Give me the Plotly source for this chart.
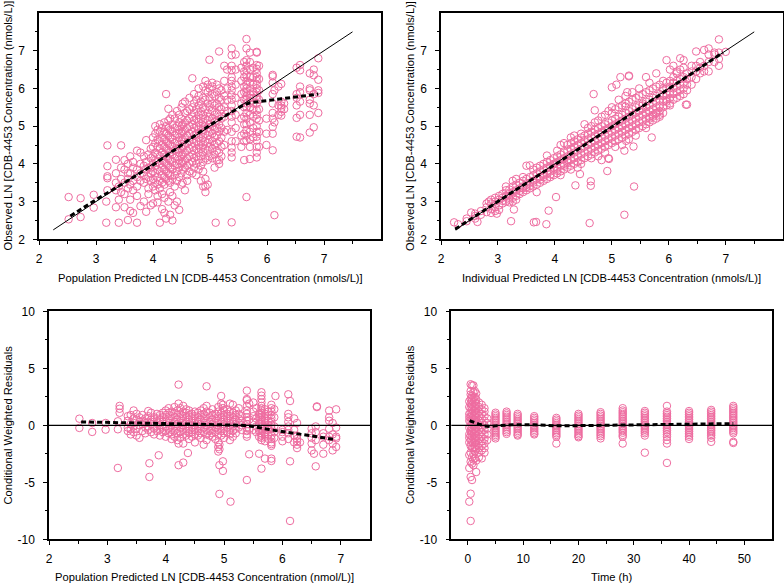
import plotly.graph_objects as go

# ---------------- DATA ----------------
# Panel 1: Population predicted (x) vs observed (y), grouped as (pred, [observed...])
p1_columns = [
    (2.52, [3.12, 2.53]), (2.73, [3.09, 2.59]), (2.96, [3.18, 2.84]),
    (3.18, [2.44, 3.0]), (3.2, [4.49, 3.94, 3.67, 3.62, 3.3]),
    (3.35, [4.11, 3.75, 3.5, 3.3, 2.85]), (3.4, [2.44, 3.4, 3.05]),
    (3.44, [4.49, 3.6, 3.25, 3.9]), (3.5, [3.5, 3.85, 3.2, 2.85, 4.1]),
    (3.56, [2.51, 3.35, 3.6, 4.0, 3.75]), (3.6, [3.45, 3.75, 3.05, 4.2, 2.75]),
    (3.65, [3.55, 3.9, 3.3, 2.7, 4.05]), (3.72, [2.44, 3.65, 3.4, 3.85, 4.35, 3.15]),
    (3.78, [2.88, 3.55, 4.0, 3.75, 4.3]), (3.84, [3.7, 3.95, 3.5, 4.2, 3.0]),
    (3.88, [4.63, 2.73, 3.85, 4.05, 3.6]), (3.92, [3.35, 3.65, 4.25, 3.9, 3.2]),
    (3.96, [3.9, 4.15, 3.55, 3.75, 4.4, 2.9]),
    (4.0, [3.6, 3.8, 4.0, 4.2, 4.45, 4.7, 3.4, 2.95]),
    (4.04, [3.5, 3.75, 3.95, 4.1, 4.3, 4.55, 4.8, 5.0, 3.3]),
    (4.08, [3.45, 3.65, 3.85, 4.05, 4.25, 4.45, 4.65, 4.9, 3.15, 2.98]),
    (4.12, [2.44, 3.55, 3.8, 4.0, 4.2, 4.4, 4.6, 4.85, 5.05, 3.35]),
    (4.16, [3.5, 3.7, 3.9, 4.1, 4.3, 4.5, 4.7, 4.95, 3.2, 2.8]),
    (4.2, [3.45, 3.65, 3.85, 4.05, 4.25, 4.45, 4.65, 4.85, 5.1, 3.1, 2.7]),
    (4.23, [5.85, 3.6, 3.8, 4.0, 4.2, 4.4, 4.6, 4.8, 5.0, 2.55]),
    (4.27, [5.46, 3.55, 3.75, 3.95, 4.15, 4.35, 4.55, 4.75, 4.95, 5.15, 3.0]),
    (4.3, [3.5, 3.7, 3.9, 4.1, 4.3, 4.5, 4.7, 4.9, 5.2, 3.25, 2.65]),
    (4.34, [3.6, 3.85, 4.05, 4.25, 4.45, 4.65, 4.85, 5.05, 5.3, 3.15, 2.5]),
    (4.38, [3.7, 3.95, 4.15, 4.35, 4.55, 4.75, 4.95, 5.2, 3.4, 2.9]),
    (4.42, [3.55, 3.8, 4.0, 4.2, 4.4, 4.6, 4.8, 5.0, 5.4, 3.0]),
    (4.46, [3.65, 3.9, 4.1, 4.3, 4.5, 4.7, 4.9, 5.1, 5.3, 2.78]),
    (4.5, [3.75, 4.0, 4.2, 4.4, 4.6, 4.8, 5.0, 5.2, 5.5, 3.45]),
    (4.52, [5.6, 3.5, 3.85, 4.05, 4.25, 4.45, 4.65, 4.85, 5.05]),
    (4.56, [3.9, 4.1, 4.3, 4.5, 4.7, 4.9, 5.1, 5.35, 5.65, 3.3]),
    (4.6, [3.7, 3.95, 4.15, 4.35, 4.55, 4.75, 4.95, 5.15, 5.4, 3.55]),
    (4.64, [4.0, 4.2, 4.4, 4.6, 4.8, 5.0, 5.2, 5.45, 5.75, 3.8]),
    (4.69, [6.27, 3.75, 4.05, 4.25, 4.45, 4.65, 4.85, 5.05, 5.25, 5.5]),
    (4.72, [3.9, 4.15, 4.35, 4.55, 4.75, 4.95, 5.15, 5.35, 5.6, 5.85]),
    (4.76, [3.7, 4.0, 4.2, 4.4, 4.6, 4.8, 5.0, 5.2, 5.45, 5.7]),
    (4.8, [3.85, 4.1, 4.3, 4.5, 4.7, 4.9, 5.1, 5.3, 5.55, 5.8, 6.0]),
    (4.84, [3.95, 4.2, 4.4, 4.6, 4.8, 5.0, 5.2, 5.4, 5.65, 3.55]),
    (4.88, [3.8, 4.05, 4.3, 4.5, 4.7, 4.9, 5.1, 5.3, 5.5, 5.75, 6.05, 3.4]),
    (4.92, [3.25, 3.4, 3.6, 4.15, 4.4, 4.6, 4.8, 5.0, 5.2, 5.45, 5.7, 5.95, 6.2]),
    (4.96, [3.45, 4.1, 4.35, 4.55, 4.75, 4.95, 5.15, 5.35, 5.6, 5.9, 6.1]),
    (4.99, [6.76, 4.2, 4.45, 4.65, 4.85, 5.05, 5.25, 5.5, 5.75, 6.0]),
    (5.04, [4.15, 4.4, 4.6, 4.8, 5.0, 5.2, 5.4, 5.6, 5.85, 6.15, 6.05]),
    (5.08, [4.25, 4.5, 4.7, 4.9, 5.1, 5.3, 5.55, 5.8, 3.9]),
    (5.1, [2.44]),
    (5.12, [4.1, 4.35, 4.55, 4.75, 4.95, 5.15, 5.35, 5.6, 5.9, 6.1]),
    (5.16, [6.98, 4.1, 4.3, 4.6, 4.85, 5.05, 5.25, 5.5, 5.75, 6.0, 4.0]),
    (5.2, [4.45, 4.7, 4.95, 5.2, 5.45, 5.7, 5.95, 4.2]),
    (5.25, [6.6, 4.5, 4.85, 5.25, 5.5, 5.8, 6.2]),
    (5.3, [6.5, 4.9, 5.4, 5.7, 6.0]),
    (5.38, [7.06, 6.88, 6.6, 6.48, 6.3, 6.05, 5.82, 5.7, 5.4, 5.1, 4.85, 4.6, 4.43,
            4.3, 4.17, 2.45, 6.2, 5.95, 5.55, 5.25]),
    (5.45, [6.9, 6.5, 6.1, 5.75, 5.3, 4.95, 4.6]),
    (5.55, [6.55, 6.2, 5.85, 5.6, 5.2, 4.75, 4.45]),
    (5.6, [6.7, 6.45, 6.3, 6.05, 5.9, 5.7, 5.5, 5.25, 5.05, 4.8, 4.6, 4.1]),
    (5.64, [7.31, 7.06, 6.75, 6.6, 6.48, 6.35, 6.2, 6.1, 6.0, 5.9, 5.8, 5.7, 5.6, 5.5,
            5.35, 5.2, 5.05, 4.9, 4.75, 4.62, 3.12]),
    (5.7, [6.95, 6.7, 6.5, 6.3, 6.15, 6.0, 5.85, 5.75, 5.65, 5.5, 5.3, 5.1, 4.85, 4.65,
           4.45, 4.13]),
    (5.76, [6.55, 6.3, 6.1, 5.9, 5.75, 5.6, 5.45, 5.25, 4.95, 4.7]),
    (5.82, [6.97, 6.95, 6.62, 6.52, 6.4, 6.3, 6.2, 6.1, 6.0, 5.9, 5.8, 5.72, 5.6, 5.42,
            5.3, 5.2, 5.0, 4.85, 4.72, 4.62, 4.45, 4.3, 4.17]),
    (5.86, [6.6, 6.25, 5.95, 5.7, 5.45, 5.15, 4.85, 4.45]),
    (5.99, [5.2, 4.5, 4.8]),
    (6.1, [6.36, 6.32, 6.15, 5.85, 5.6, 5.35, 5.2, 4.98, 4.8, 4.36]),
    (6.13, [2.64, 5.95, 5.1]), (6.2, [5.3, 5.55, 6.05]),
    (6.25, [6.12, 5.55, 5.48, 5.38, 5.28, 5.65]), (6.3, [5.45, 5.6]),
    (6.52, [6.55, 5.85, 5.75, 5.55, 5.22, 4.72]),
    (6.58, [6.62, 6.48, 6.05, 5.9, 5.65, 4.7, 5.3]),
    (6.75, [6.4, 6.0, 5.95, 5.6, 5.3, 4.83, 5.7]),
    (6.82, [6.5, 6.35, 5.85, 5.55, 4.97]),
    (6.9, [6.8, 6.23, 5.95, 5.88, 5.35]),
]
p1_loess_x = [2.55, 3.0, 3.5, 4.0, 4.5, 5.0, 5.3, 5.55, 5.7, 6.0, 6.3, 6.6, 6.9]
p1_loess_y = [2.62, 3.05, 3.5, 3.97, 4.5, 5.03, 5.3, 5.53, 5.62, 5.68, 5.74, 5.79, 5.85]

# Panel 2: Individual predicted (x) vs observed (y)
p2_columns = [
    (2.3, [2.4]), (2.45, [2.48, 2.55]), (2.6, [2.55, 2.68, 2.62]), (2.7, [2.65, 2.75]),
    (2.8, [2.72, 2.85, 2.95]), (2.88, [2.8, 2.95, 3.05, 2.7]),
    (2.95, [2.85, 3.0, 3.1, 2.75]), (3.02, [2.9, 3.05, 3.15, 2.78]),
    (3.08, [2.95, 3.1, 3.2, 3.02]), (3.14, [3.0, 3.15, 3.3, 3.4]),
    (3.2, [3.05, 3.2, 3.32, 2.98, 3.1]), (3.26, [3.1, 3.25, 3.4, 3.55, 3.0]),
    (3.32, [3.15, 3.3, 3.45, 3.6, 3.05]), (3.38, [3.2, 3.35, 3.5, 3.28]),
    (3.44, [3.25, 3.4, 3.55, 3.65, 3.35]), (3.5, [3.3, 3.45, 3.6, 3.95, 3.38]),
    (3.56, [3.35, 3.5, 3.65, 3.96, 3.42]), (3.62, [3.4, 3.55, 3.7, 3.85, 3.5]),
    (3.68, [3.25, 3.45, 3.6, 3.75, 3.9]), (3.74, [3.5, 3.65, 3.8, 3.95, 3.58]),
    (3.8, [3.55, 3.7, 3.85, 4.0, 3.65]), (3.86, [3.6, 3.75, 3.9, 4.05, 4.22]),
    (3.92, [3.65, 3.8, 3.95, 4.1, 3.72]), (3.98, [3.7, 3.85, 4.0, 4.15, 3.9]),
    (4.04, [3.75, 3.9, 4.05, 4.2, 4.35, 3.82]), (4.1, [3.8, 3.95, 4.1, 4.25, 4.5, 3.7]),
    (4.16, [3.85, 4.0, 4.15, 4.3, 4.55, 3.95]), (4.22, [3.9, 4.05, 4.2, 4.35, 4.5, 4.1]),
    (4.28, [3.95, 4.1, 4.25, 4.4, 4.55, 4.7, 3.85]),
    (4.34, [4.0, 4.15, 4.3, 4.45, 4.6, 4.75]), (4.4, [4.05, 4.2, 4.35, 4.5, 4.65, 3.9]),
    (4.46, [4.1, 4.25, 4.4, 4.55, 4.7, 4.8, 4.0]),
    (4.52, [4.15, 4.3, 4.45, 4.6, 4.75, 5.05]), (4.58, [4.2, 4.35, 4.5, 4.65, 4.8, 4.95]),
    (4.64, [4.25, 4.4, 4.55, 4.7, 4.85, 5.0, 4.15]),
    (4.7, [4.3, 4.45, 4.6, 4.75, 4.9, 5.1, 5.42]),
    (4.76, [4.35, 4.5, 4.65, 4.8, 4.95, 5.15, 4.2]),
    (4.82, [4.4, 4.55, 4.7, 4.85, 5.0, 5.25, 4.1]),
    (4.88, [4.45, 4.6, 4.75, 4.9, 5.05, 5.3, 4.3]),
    (4.94, [4.5, 4.65, 4.8, 4.95, 5.1, 5.4, 4.15]),
    (5.0, [4.55, 4.7, 4.85, 5.0, 5.15, 5.35, 5.5]),
    (5.06, [4.6, 4.75, 4.9, 5.05, 5.2, 5.45, 4.45]),
    (5.12, [4.65, 4.8, 4.95, 5.1, 5.25, 5.5, 5.7]),
    (5.18, [4.7, 4.85, 5.0, 5.15, 5.3, 5.55, 4.5]),
    (5.24, [4.75, 4.9, 5.05, 5.2, 5.35, 5.6, 5.8]),
    (5.3, [4.8, 4.95, 5.1, 5.25, 5.4, 5.65, 4.65, 6.32]),
    (5.36, [4.85, 5.0, 5.15, 5.3, 5.45, 5.7, 5.9]),
    (5.42, [4.9, 5.05, 5.2, 5.35, 5.5, 5.75, 4.75]),
    (5.48, [4.95, 5.1, 5.25, 5.4, 5.55, 5.8, 6.0]),
    (5.54, [5.0, 5.15, 5.3, 5.45, 5.6, 5.85, 5.55]),
    (5.6, [5.05, 5.2, 5.35, 5.5, 5.65, 5.9, 6.3, 4.95]),
    (5.66, [5.1, 5.25, 5.4, 5.55, 5.7, 5.95, 6.15, 5.2]),
    (5.72, [5.15, 5.3, 5.45, 5.6, 5.75, 6.0, 5.25]),
    (5.78, [5.2, 5.35, 5.5, 5.65, 5.8, 6.05, 6.4, 5.35]),
    (5.84, [5.25, 5.4, 5.55, 5.7, 5.85, 6.1, 5.3]),
    (5.9, [5.35, 5.5, 5.65, 5.8, 5.95, 6.2, 6.0]),
    (5.96, [5.55, 5.7, 5.85, 6.0, 6.15, 6.75, 5.65]),
    (6.02, [5.6, 5.75, 5.9, 6.05, 6.2, 6.5, 5.55]),
    (6.08, [5.7, 5.85, 6.0, 6.15, 6.3, 6.6]), (6.14, [5.75, 5.9, 6.05, 6.2, 6.4, 6.45]),
    (6.2, [5.8, 5.95, 6.1, 6.25, 6.5, 6.8]), (6.26, [5.85, 6.0, 6.15, 6.3, 6.55, 6.75]),
    (6.32, [5.95, 6.1, 6.25, 6.4, 5.57]), (6.4, [6.1, 6.3, 6.45, 6.6]),
    (6.48, [6.25, 6.45, 6.6, 6.98]), (6.55, [6.4, 6.55, 6.7]), (6.62, [6.45, 6.6, 7.02]),
    (6.7, [6.45, 6.7, 6.9, 7.06]), (6.8, [6.7, 6.9, 6.95]),
    (6.88, [6.6, 6.78, 6.95, 7.3]), (7.0, [6.97]),
]
p2_out_ipred = [2.23, 2.53, 2.64, 2.84, 2.98, 3.23, 3.28, 3.63, 3.67, 3.85, 3.89, 4.02,
                4.36, 4.44, 4.63, 4.63, 4.61, 4.92, 4.95, 5.22, 5.39, 5.38, 5.22, 5.25,
                5.7, 4.68, 5.0, 5.08, 5.15, 5.3, 5.24, 5.27, 6.3]
p2_out_dv = [2.45, 2.71, 2.46, 3.0, 2.68, 2.48, 2.79, 2.45, 2.46, 2.4, 2.76, 3.12,
             3.43, 3.73, 3.54, 3.42, 2.43, 3.81, 4.13, 2.65, 3.4, 4.46, 4.35, 4.61,
             4.7, 5.85, 6.03, 6.1, 6.3, 6.34, 5.52, 5.9, 5.57]
p2_loess_x = [2.25, 3.0, 4.0, 5.0, 6.0, 6.95]
p2_loess_y = [2.27, 3.0, 3.98, 4.98, 5.98, 6.95]

identity_range = [2.25, 7.5]

# Panel 3: Population predicted (x) vs CWRES (y)
p3_columns = [
    (2.52, [0.58, -0.23]), (2.74, [0.2, -0.58]), (2.97, [0.2, -0.38]),
    (3.18, [-3.74, 0.35, -0.35]), (3.21, [1.7, 1.1, 1.45]),
    (3.35, [0.4, -0.2, 0.8, -0.5]), (3.4, [0.9, 0.1, -0.35, -0.8]),
    (3.45, [1.3, 0.6, 0.2, -0.1, -0.6]), (3.5, [0.5, -0.3, 1.0, -0.9]),
    (3.55, [0.0, -1.1, 0.7, 0.3]), (3.6, [0.4, -0.5, 0.9, 0.1]),
    (3.65, [-0.2, 0.6, -0.7, 0.2]), (3.7, [1.25, 0.3, -0.4, 0.8, -0.1]),
    (3.72, [-3.33, -4.53]), (3.75, [0.5, -0.6, 0.1, 1.1]), (3.8, [0.3, -0.3, 0.7, -0.8]),
    (3.85, [0.6, -0.1, 0.2, -0.5, 1.0]), (3.88, [-2.63]),
    (3.9, [0.9, 0.0, -0.4, 0.45, -0.9]), (3.95, [0.3, -0.2, 0.7, 1.1, -0.6]),
    (4.0, [-0.1, 0.4, 0.9, -0.5, -1.0, 1.3]), (4.05, [0.2, 0.6, -0.3, -0.7, 1.1, 1.5]),
    (4.1, [0.0, 0.4, 0.8, -0.4, -0.8, -1.2, 1.2]),
    (4.15, [0.3, 0.7, -0.1, -0.5, -1.0, 1.1, 1.6]),
    (4.2, [0.1, 0.5, 0.9, -0.3, -0.7, -1.3, 1.3]), (4.22, [3.57, -3.5, 1.9, -1.6]),
    (4.25, [0.2, 0.6, 1.0, -0.2, -0.6, -1.1, 1.5]),
    (4.3, [0.0, 0.4, 0.8, -0.4, -0.8, 1.2, -3.27, -1.6, 1.7]),
    (4.35, [0.3, 0.7, -0.1, -0.5, -0.9, 1.1, 1.4]), (4.38, [-2.43]),
    (4.4, [0.1, 0.5, 0.9, -0.3, -0.7, -1.2, 1.3]),
    (4.45, [0.2, 0.6, -0.2, -0.6, -1.0, 1.0]),
    (4.5, [0.0, 0.4, 0.8, -0.4, -0.8, 1.2, -1.5]),
    (4.55, [0.3, 0.7, -0.1, -0.5, -0.9, 1.1]),
    (4.6, [0.1, 0.5, 0.9, -0.3, -0.7, -1.1, 1.3]),
    (4.65, [0.2, 0.6, -0.2, -0.6, 1.0, -1.7, 1.5]),
    (4.7, [3.42, 0.0, 0.4, 0.8, -0.4, -0.8, 1.7, 1.2, -1.3]),
    (4.75, [0.3, 0.7, -0.1, -0.5, -0.9, 1.1]),
    (4.8, [0.1, 0.5, 0.9, -0.3, -0.7, -1.0, 1.4]),
    (4.85, [0.2, 0.6, -0.2, -0.6, 1.0, -1.2]),
    (4.9, [0.0, 0.4, 0.8, -0.4, -0.8, 1.2, 1.6, -1.5, -1.9, -2.3]),
    (4.92, [-6.02, -3.5, -1.7, -2.1]),
    (4.95, [2.57, 0.3, 0.7, -0.1, -0.5, -0.9, 1.1, 1.9]),
    (4.98, [-4.0, -3.16, 1.8, 1.5]),
    (5.0, [0.1, 0.5, 0.9, -0.3, -0.7, -1.1, 1.3]),
    (5.05, [0.2, 0.6, -0.2, -0.6, 1.0, 1.4]),
    (5.1, [0.0, 0.4, 0.8, -0.4, -0.8, 1.2, 1.9, -1.3]), (5.11, [-6.7]),
    (5.15, [0.3, 0.7, -0.1, -0.5, 1.1, 1.8, -1.0]),
    (5.2, [0.1, 0.5, 0.9, -0.3, -0.7, 1.3]), (5.25, [0.2, 0.6, -0.2, 1.0, 1.5]),
    (5.3, [0.0, 0.4, -0.4, 0.8]),
    (5.39, [3.04, -4.8, 2.3, 2.2, 1.7, 1.3, 1.0, 0.7, 0.4, 0.1, -0.2, -0.5, -0.8, -1.0]),
    (5.43, [-2.54, 1.9, 0.5, -0.3]), (5.5, [2.0, 1.2, 0.3, -0.4, 0.8]),
    (5.55, [1.5, 0.6, -0.1, -0.6]), (5.6, [-2.49, 1.0, 0.2, -0.5, -1.0, 0.7]),
    (5.64, [-3.8, 2.9, 2.6, 2.3, 2.0, 1.7, 1.5, 1.3, 1.1, 0.9, 0.7, 0.5, 0.3, 0.1, -0.1,
            -0.3, -0.5, -0.7, -0.9, -1.1, -1.3]),
    (5.7, [-2.92, 1.4, 1.0, 0.6, 0.2, -0.2, -0.6, -1.0, -1.4, 0.4, -0.8]),
    (5.76, [1.2, 0.8, 0.4, 0.0, -0.4, -0.8, -1.2, -0.2]),
    (5.81, [-2.92, -3.13, 1.8, 1.5, 1.2, 0.9, 0.6, 0.3, 0.0, -0.3, -0.6, -0.9, -1.2,
            -1.5, -1.8, -1.65]),
    (5.86, [1.4, 0.7, -0.1, -0.6, -1.1]), (5.88, [2.57]),
    (6.0, [-0.6, -1.0, -1.4, -0.4]),
    (6.1, [2.72, 1.0, 0.7, 0.3, -0.1, -0.4, -0.7, -1.2]),
    (6.13, [-8.39, -3.16, 2.13]), (6.2, [0.6, -0.4, -0.9, -1.5]),
    (6.25, [-0.9, -1.2, -1.4, -1.7, -2.0, 0.2]), (6.3, [-1.5]),
    (6.5, [-0.3, -0.7, -1.1, -1.6, -2.2]), (6.54, [-2.49]),
    (6.57, [-3.6, -0.1, -0.6, -1.3]), (6.59, [1.66, 1.6]),
    (6.7, [-2.49, -1.0, -0.7, -1.7]), (6.8, [1.29, 0.7, 0.4, -0.3, -1.0, -1.3]),
    (6.86, [-2.2, -1.6, 0.2, -0.8]), (6.92, [1.4, -0.2, -1.0, -1.15, -1.9]),
]
p3_loess_x = [2.55, 3.0, 3.5, 4.0, 4.5, 5.0, 5.3, 5.5, 5.8, 6.2, 6.5, 6.9]
p3_loess_y = [0.3, 0.27, 0.22, 0.15, 0.1, 0.05, 0.0, -0.1, -0.4, -0.7, -0.95, -1.25]

# Panel 4: Time (x) vs CWRES (y)
p4_columns = [
    (0.25, [-6.7, -2.6, -3.74, -1.5, -0.8, -0.2, 0.4, 1.0, 1.6, 2.1, 0.7, -1.1]),
    (0.5, [3.6, -8.39, -6.0, -4.53, -3.2, -2.4, -1.8, -1.3, -0.9, -0.5, -0.1, 0.3, 0.7,
           1.1, 1.5, 1.9, 2.3, 2.7, 3.0]),
    (0.75, [-4.8, -3.36, -2.8, -2.0, -1.5, -1.0, -0.6, -0.2, 0.2, 0.6, 1.0, 1.4, 1.8,
            2.2, 2.6, 3.5]),
    (1.0, [3.5, 2.9, 2.4, 2.0, 1.6, 1.2, 0.8, 0.4, 0.0, -0.4, -0.8, -1.2, -1.6, -2.0,
           -2.5, -3.0, -3.5]),
    (1.25, [3.0, 2.5, 2.1, 1.7, 1.3, 0.9, 0.5, 0.1, -0.3, -0.7, -1.1, -1.5, -1.9, -2.3,
            -2.9]),
    (1.5, [2.8, 2.3, 1.9, 1.5, 1.1, 0.7, 0.3, -0.1, -0.5, -0.9, -1.3, -1.7, -2.1, -4.1,
           -3.1]),
    (2.0, [2.0, 1.6, 1.2, 0.8, 0.4, 0.0, -0.4, -0.8, -1.2, -1.6, -2.0, -2.4, -2.8]),
    (2.5, [1.8, 1.4, 1.0, 0.6, 0.2, -0.2, -0.6, -1.0, -1.4, -1.8, -2.2, -2.9]),
    (3.0, [1.5, 1.2, 0.8, 0.4, 0.0, -0.4, -0.8, -1.2, -1.6, -2.0, -2.4]),
    (3.5, [0.6, 0.2, -0.3, -0.8, -1.3]),
    (5.0, [1.1, 0.95, 0.8, 0.65, 0.5, 0.35, 0.2, 0.05, -0.1, -0.25, -0.4, -0.55, -0.7,
           -0.85, -1.0, -1.15]),
    (7.0, [1.2, 1.05, 0.9, 0.75, 0.6, 0.45, 0.3, 0.15, 0.0, -0.15, -0.3, -0.45, -0.6,
           -0.75]),
    (9.0, [1.0, 0.85, 0.7, 0.55, 0.4, 0.25, 0.1, -0.05, -0.2, -0.35, -0.5, -0.65, -0.8,
           -0.9]),
    (12.0, [0.8, 0.65, 0.5, 0.35, 0.2, 0.05, -0.1, -0.25, -0.4, -0.55, -0.7, -0.8]),
    (16.0, [0.65, 0.5, 0.35, 0.2, 0.05, -0.1, -0.25, -0.4, -0.55, -0.7, -0.85, -1.0,
            -1.6]),
    (20.0, [1.0, 0.85, 0.7, 0.55, 0.4, 0.25, 0.1, -0.05, -0.2, -0.35, -0.5, -0.65, -0.8,
            -0.95, -1.05]),
    (24.0, [1.15, 1.0, 0.85, 0.7, 0.55, 0.4, 0.25, 0.1, -0.05, -0.2, -0.35, -0.5, -0.65,
            -0.8, -0.95, -1.15]),
    (28.0, [1.5, 1.3, 1.15, 1.0, 0.85, 0.7, 0.55, 0.4, 0.25, 0.1, -0.05, -0.2, -0.35,
            -0.5, -0.65, -0.85, -1.0, -1.6]),
    (32.0, [1.25, 1.1, 0.95, 0.8, 0.65, 0.5, 0.35, 0.2, 0.05, -0.1, -0.25, -0.4, -0.55,
            -0.7, -0.9, -2.4]),
    (36.0, [1.7, 1.2, 1.05, 0.9, 0.75, 0.6, 0.45, 0.3, 0.15, 0.0, -0.15, -0.3, -0.45,
            -0.6, -0.8, -1.0, -1.3, -1.6, -3.3]),
    (40.0, [1.25, 1.1, 0.95, 0.8, 0.65, 0.5, 0.35, 0.2, 0.05, -0.1, -0.25, -0.4, -0.55,
            -0.7, -0.85, -1.0, -1.2]),
    (44.0, [1.35, 1.2, 1.05, 0.9, 0.75, 0.6, 0.45, 0.3, 0.15, 0.0, -0.15, -0.3, -0.45,
            -0.6, -0.75, -0.9, -1.1, -1.45]),
    (48.0, [1.7, 1.55, 1.4, 1.25, 1.1, 0.95, 0.8, 0.65, 0.5, 0.35, 0.2, 0.05, -0.1,
            -0.25, -0.4, -0.55, -0.7, -1.45, -1.55]),
]
p4_loess_x = [0.3, 1.0, 2.0, 3.0, 4.0, 5.0, 8.0, 12.0, 16.0, 20.0, 25.0, 30.0, 35.0,
              40.0, 44.0, 48.0]
p4_loess_y = [0.4, 0.25, 0.1, -0.05, -0.1, -0.05, 0.05, 0.05, -0.05, -0.03, 0.0, 0.05,
              0.08, 0.1, 0.12, 0.15]

# ---------------- FIGURE ----------------
W, H = 784, 584
PINK = "rgb(238,108,160)"
FONT = "Liberation Sans, Arial, Helvetica, sans-serif"


def expand(cols):
    xs, ys = [], []
    for x, vals in cols:
        xs += [x] * len(vals)
        ys += list(vals)
    return xs, ys


def fx(px):
    return px / W


def fy(py):
    return 1 - py / H


fig = go.Figure()

marker = dict(symbol="circle-open", size=7.5, color=PINK, line=dict(width=1, color=PINK))
loess_line = dict(color="black", width=3, dash="5px,3px")


def add_scatter(xs, ys, ax):
    fig.add_trace(go.Scatter(x=xs, y=ys, mode="markers", marker=marker,
                             xaxis="x" + ax, yaxis="y" + ax, showlegend=False,
                             hoverinfo="skip"))


def add_line(xs, ys, ax, line):
    fig.add_trace(go.Scatter(x=xs, y=ys, mode="lines", line=line,
                             xaxis="x" + ax, yaxis="y" + ax, showlegend=False,
                             hoverinfo="skip"))


x1, y1 = expand(p1_columns)
add_scatter(x1, y1, "")
add_line(identity_range, identity_range, "", dict(color="black", width=1))
add_line(p1_loess_x, p1_loess_y, "", loess_line)

x2, y2 = expand(p2_columns)
add_scatter(x2 + p2_out_ipred, y2 + p2_out_dv, "2")
add_line(identity_range, identity_range, "2", dict(color="black", width=1))
add_line(p2_loess_x, p2_loess_y, "2", loess_line)

x3, y3 = expand(p3_columns)
add_scatter(x3, y3, "3")
add_line(p3_loess_x, p3_loess_y, "3", loess_line)

x4, y4 = expand(p4_columns)
add_scatter(x4, y4, "4")
add_line(p4_loess_x, p4_loess_y, "4", loess_line)


def axis(domain, rng, tickvals, minorvals, anchor, standoff):
    return dict(domain=domain, range=rng, anchor=anchor, tickmode="array",
                tickvals=tickvals, ticktext=[str(v) for v in tickvals],
                ticks="outside", ticklen=4, tickwidth=1, tickcolor="black",
                ticklabelstandoff=standoff,
                showline=True, linecolor="black", linewidth=1.5, mirror=True,
                showgrid=False, zeroline=False, automargin=False,
                tickfont=dict(family=FONT, size=12, color="black"),
                minor=dict(tickmode="array", tickvals=minorvals, ticks="outside",
                           ticklen=2.5, tickwidth=1, tickcolor="black", showgrid=False))


half_2_8 = [2.5, 3.5, 4.5, 5.5, 6.5, 7.5]
ints_2_7 = [2, 3, 4, 5, 6, 7]
cw_ticks = [-10, -5, 0, 5, 10]
cw_minor = [-7.5, -2.5, 2.5, 7.5]

top_dom = [fy(239.3), fy(13)]
bot_dom = [fy(539.3), fy(311.3)]
XS, YS = 4, 6

fig.update_layout(
    template="none",
    width=W, height=H, margin=dict(l=0, r=0, t=0, b=0, pad=0, autoexpand=False),
    paper_bgcolor="white", plot_bgcolor="white",
    font=dict(family=FONT, size=12, color="black"),
    xaxis=axis([fx(39), fx(381)], [2, 8], ints_2_7, half_2_8, "y", XS),
    yaxis=axis(top_dom, [2, 8], ints_2_7, half_2_8, "x", YS),
    xaxis2=axis([fx(441), fx(782.7)], [2, 8], ints_2_7, half_2_8, "y2", XS),
    yaxis2=axis(top_dom, [2, 8], ints_2_7, half_2_8, "x2", YS),
    xaxis3=axis([fx(49), fx(370)], [2, 7.5], ints_2_7, [2.5, 3.5, 4.5, 5.5, 6.5],
                "y3", XS),
    yaxis3=axis(bot_dom, [-10, 10], cw_ticks, cw_minor, "x3", YS),
    xaxis4=axis([fx(451.3), fx(772)], [-3, 55], [0, 10, 20, 30, 40, 50],
                [5, 15, 25, 35, 45], "y4", XS),
    yaxis4=axis(bot_dom, [-10, 10], cw_ticks, cw_minor, "x4", YS),
)

# zero reference lines for residual panels
for ax in ["3", "4"]:
    fig.add_shape(type="line", xref=f"x{ax} domain", yref=f"y{ax}",
                  x0=0, x1=1, y0=0, y1=0, line=dict(color="black", width=1.2))

titles = [
    ("Population Predicted LN [CDB-4453 Concentration (nmols/L)]", 211, 278, 0),
    ("Observed LN [CDB-4453 Concentration (nmols/L)]", 7.5, 126, -90),
    ("Individual Predicted LN [CDB-4453 Concentration (nmols/L)]", 611, 278, 0),
    ("Observed LN [CDB-4453 Concentration (nmols/L)]", 410, 126, -90),
    ("Population Predicted LN [CDB-4453 Concentration (nmol/L)]", 204, 577, 0),
    ("Conditional Weighted Residuals", 7.5, 425, -90),
    ("Time (h)", 612, 577, 0),
    ("Conditional Weighted Residuals", 410, 425, -90),
]
for text, px, py, ang in titles:
    fig.add_annotation(text=text, x=fx(px), y=fy(py), xref="paper", yref="paper",
                       showarrow=False, textangle=ang, xanchor="center",
                       yanchor="middle",
                       font=dict(family=FONT, size=11.2, color="black"))

# remove the browser's default 8px body margin so the figure sits at the page origin
fig.write_html("out.html", config={"displayModeBar": False},
               post_script="document.body.style.margin='0';"
                           "document.body.style.overflow='hidden';")
